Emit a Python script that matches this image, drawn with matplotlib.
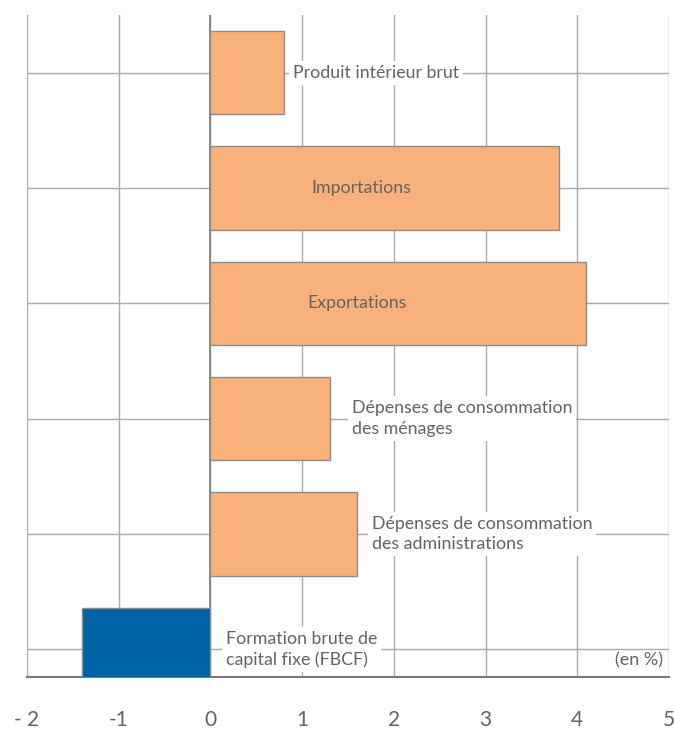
import numpy as np
import matplotlib.pyplot as plt

# Contributions à la croissance du PIB (en %)
categories = ["Produit intérieur brut", "Importations", "Exportations",
              "Dépenses de consommation\ndes ménages",
              "Dépenses de consommation\ndes administrations",
              "Formation brute de\ncapital fixe (FBCF)"]
valeurs = [0.8, 3.8, 4.1, 1.3, 1.6, -1.4]
ticks_x = [-2, -1, 0, 1, 2, 3, 4, 5]
labels_x = ["- 2", "-1", "0", "1", "2", "3", "4", "5"]

orange = "#F8B17A"
bleu = "#0063A5"
gris_texte = "#636363"

plt.rcParams['font.family'] = ['Lato', 'DejaVu Sans']

fig = plt.figure(figsize=(6.74, 7.35), dpi=100)
ax = fig.add_axes([27 / 674, 1 - 677 / 735, 642 / 674, 662 / 735])

y = np.arange(len(categories))
couleurs = [bleu if v < 0 else orange for v in valeurs]
ax.barh(y, valeurs, height=0.72, color=couleurs, edgecolor="#8c8c8c",
        linewidth=1.0, zorder=3)

ax.set_xlim(-2, 5)
ax.set_ylim(len(categories) - 1 + 0.24, -0.5)
ax.set_xticks(ticks_x)
ax.set_xticklabels(labels_x, fontsize=15, color=gris_texte)
ax.set_yticks(y)
ax.set_yticklabels([])
ax.tick_params(length=0)
ax.tick_params(axis='x', pad=24)

ax.grid(True, color="#aaaaaa", linewidth=1.0, zorder=0)
ax.set_axisbelow(True)
ax.axvline(0, color="#7a7a7a", linewidth=1.2, zorder=2)
for s in ["top", "right", "left"]:
    ax.spines[s].set_visible(False)
ax.spines["bottom"].set_color("#7a7a7a")
ax.spines["bottom"].set_linewidth(1.5)

# étiquettes
boite = dict(facecolor="white", edgecolor="none", pad=3)
style = dict(fontsize=12.8, color=gris_texte, zorder=4,
             va="center", linespacing=1.35)
ax.text(0.9, 0, categories[0], ha="left", bbox=boite, **style)
ax.text(1.65, 1, categories[1], ha="center", **style)
ax.text(1.6, 2, categories[2], ha="center", **style)
ax.text(1.54, 3, categories[3], ha="left", bbox=boite, **style)
ax.text(1.76, 4, categories[4], ha="left", bbox=boite, **style)
ax.text(0.17, 5, categories[5], ha="left", bbox=boite, **style)

ax.text(4.93, 5.1, "(en %)", ha="right", va="center", fontsize=13,
        color=gris_texte)

fig.savefig("out.png", dpi=100)
